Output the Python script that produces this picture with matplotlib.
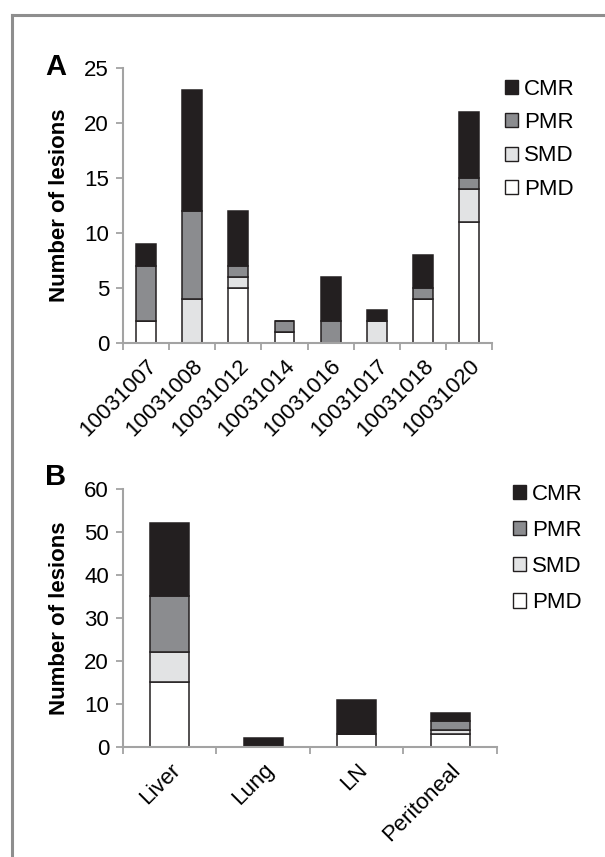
import matplotlib
matplotlib.use("Agg")
import matplotlib.pyplot as plt
from matplotlib.lines import Line2D
import numpy as np

plt.rcParams['font.family'] = ['Liberation Sans', 'DejaVu Sans']

# ---- data ----
patients = ["10031007", "10031008", "10031012", "10031014",
            "10031016", "10031017", "10031018", "10031020"]
a_pmd = [2, 0, 5, 1, 0, 0, 4, 11]
a_smd = [0, 4, 1, 0, 0, 2, 0, 3]
a_pmr = [5, 8, 1, 1, 2, 0, 1, 1]
a_cmr = [2, 11, 5, 0, 4, 1, 3, 6]

sites = ["Liver", "Lung", "LN", "Peritoneal"]
b_pmd = [15, 0, 3, 3]
b_smd = [7, 0, 0, 1]
b_pmr = [13, 0, 0, 2]
b_cmr = [17, 2, 8, 2]

series_names = ["PMD", "SMD", "PMR", "CMR"]
colors = ["#ffffff", "#e2e3e4", "#8b8c8f", "#231f20"]
edge = "#231f20"
spine_c = "#a3a3a3"
FS = 16

fig = plt.figure(figsize=(6.05, 8.57), dpi=100)

def panel(rect, cats, data, ymax, ystep, width, label, label_xy, legend_anchor, lspacing):
    ax = fig.add_axes(rect)
    x = np.arange(len(cats))
    bottom = np.zeros(len(cats))
    handles = []
    for vals, col, name in zip(data, colors, series_names):
        vals = np.array(vals, dtype=float)
        b = ax.bar(x, vals, width, bottom=bottom, color=col, edgecolor=edge,
                   linewidth=1.1, label=name)
        handles.append(b)
        bottom += vals
    ax.set_xlim(-0.5, len(cats) - 0.5)
    ax.set_ylim(0, ymax)
    ax.set_yticks(np.arange(0, ymax + 0.1, ystep))
    ax.set_xticks(x)
    ax.set_xticklabels(cats, rotation=45, ha='right', va='top',
                       rotation_mode='anchor', fontsize=FS)
    ax.set_xticks(np.arange(-0.5, len(cats), 1.0), minor=True)
    ax.tick_params(axis='x', which='major', length=0, pad=9)
    ax.tick_params(axis='x', which='minor', length=5, width=1.3, color=spine_c)
    ax.tick_params(axis='y', length=5, width=1.3, color=spine_c, labelsize=FS, pad=5)
    for s in ['top', 'right']:
        ax.spines[s].set_visible(False)
    for s in ['left', 'bottom']:
        ax.spines[s].set_color(spine_c)
        ax.spines[s].set_linewidth(1.5)
    ax.set_ylabel("Number of lesions", fontsize=FS, fontweight='bold', labelpad=10)
    fig.text(label_xy[0], label_xy[1], label, fontsize=21,
             fontweight='bold', ha='center', va='center')
    leg = ax.legend(handles[::-1], series_names[::-1], loc='upper left',
                    bbox_to_anchor=legend_anchor, bbox_transform=fig.transFigure,
                    frameon=False, fontsize=FS, handlelength=0.6,
                    handleheight=0.6, handletextpad=0.25, labelspacing=lspacing,
                    borderpad=0, borderaxespad=0)
    for h in leg.legend_handles:
        h.set_linewidth(1.0)
    return ax

panel([0.2033, 0.5998, 0.610, 0.3209], patients,
      [a_pmd, a_smd, a_pmr, a_cmr], 25, 5, 0.43, "A",
      (56 / 605, 1 - 67 / 857),
      (505 / 605, 1 - 79 / 857), 0.55)
panel([0.2033, 0.1284, 0.618, 0.3011], sites,
      [b_pmd, b_smd, b_pmr, b_cmr], 60, 10, 0.42, "B",
      (56 / 605, 1 - 477 / 857),
      (513 / 605, 1 - 484 / 857), 0.68)

# outer frame (left and top edges)
fc = "#8e8e8e"
fig.add_artist(Line2D([12 / 605, 12 / 605], [0, 1 - 15 / 857],
                      transform=fig.transFigure, color=fc, lw=2.2))
fig.add_artist(Line2D([12 / 605, 1], [1 - 15 / 857, 1 - 15 / 857],
                      transform=fig.transFigure, color=fc, lw=2.2))

fig.savefig("out.png", dpi=100)
